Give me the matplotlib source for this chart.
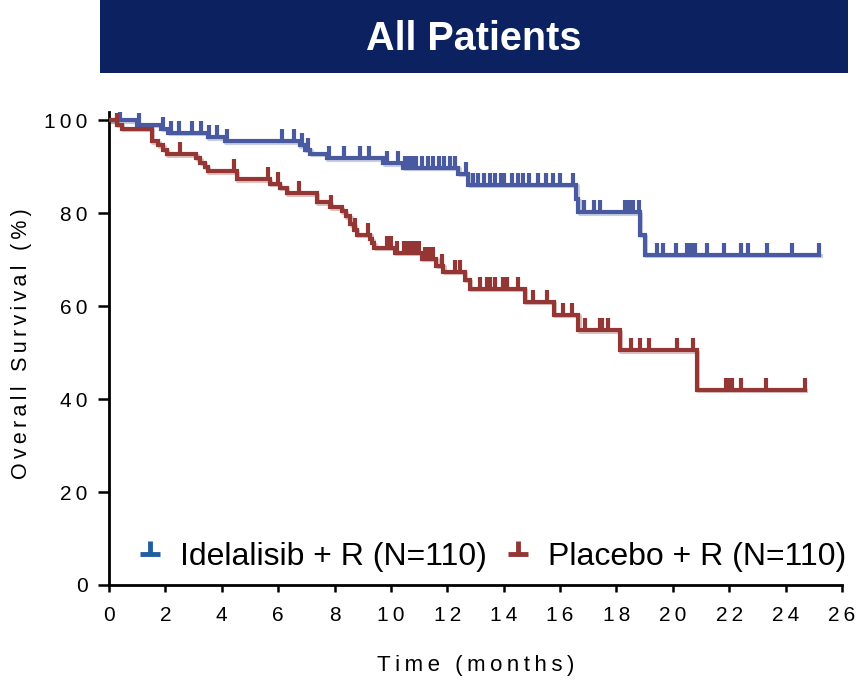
import numpy as np
import matplotlib
matplotlib.use("Agg")
import matplotlib.pyplot as plt
from matplotlib.path import Path
from matplotlib.lines import Line2D
from matplotlib.patches import Rectangle
from matplotlib.transforms import offset_copy

# ---- data ----
idela_times = [0, 1.0, 1.85, 2.1, 3.5, 4.1, 6.77, 6.95, 7.13, 7.72, 9.73, 10.44, 12.39, 12.74,
               16.58, 16.65, 18.83, 19.0, 25.2]
idela_surv = [100, 99.1, 98.2, 97.3, 96.4, 95.5, 94.6, 93.7, 92.8, 91.8, 90.8, 89.8, 88.5, 86.1,
              83.0, 80.2, 75.4, 71.1, 71.1]
idela_censor = [0.39, 1.06, 1.9, 2.19, 2.48, 2.95, 3.26, 3.55, 3.82, 4.17, 6.12, 6.56, 6.83, 7.06,
                7.79, 8.33, 8.92, 9.23, 9.85, 10.25, 10.5, 10.65, 10.8, 10.9, 11.1, 11.3, 11.5,
                11.7, 11.9, 12.1, 12.27, 12.68, 12.9, 13.1, 13.3, 13.5, 13.7, 13.9, 14.0, 14.3,
                14.5, 14.7, 14.9, 15.2, 15.5, 15.75, 16.0, 16.45, 16.84, 17.2, 17.4, 18.3, 18.45,
                18.6, 18.8, 19.45, 19.65, 20.1, 20.5, 20.65, 20.8, 21.2, 21.8, 22.4, 22.65, 23.35,
                24.24, 25.2]

plac_times = [0, 0.27, 0.45, 1.51, 1.75, 1.92, 2.04, 3.1, 3.23, 3.4, 3.5, 4.53, 5.71, 6.06, 6.3,
              7.37, 7.84, 8.25, 8.4, 8.55, 8.7, 8.78, 9.26, 9.33, 9.4, 10.14, 11.09, 11.6, 11.86,
              12.62, 12.8, 14.75, 15.78, 16.64, 18.12, 20.84, 24.68]
plac_surv = [100, 99.1, 98.2, 95.5, 94.6, 93.7, 92.7, 91.8, 90.9, 90.0, 89.1, 87.3, 86.4, 85.5,
             84.3, 82.4, 81.3, 80.4, 79.4, 77.6, 76.5, 75.4, 74.4, 73.6, 72.6, 71.5, 70.2, 68.7,
             67.4, 65.7, 63.8, 61.0, 58.2, 54.8, 50.5, 42.0, 42.0]
plac_censor = [0.29, 2.52, 4.45, 5.65, 6.0, 6.74, 7.87, 8.72, 9.2, 9.85, 10.0, 10.2, 10.45, 10.6,
               10.75, 10.9, 11.0, 11.2, 11.35, 11.5, 11.8, 12.27, 12.45, 13.16, 13.4, 13.5, 13.69,
               13.97, 14.1, 14.49, 15.05, 15.52, 16.1, 16.44, 16.88, 17.4, 17.5, 17.7, 18.5,
               18.83, 19.16, 20.15, 20.7, 21.9, 22.0, 22.1, 22.4, 23.3, 24.68]

labels = ["Idelalisib + R (N=110)", "Placebo + R (N=110)"]
x_ticks = list(range(0, 27, 2))
y_ticks = [0, 20, 40, 60, 80, 100]
x_label = "Time (months)"
y_label = "Overall Survival (%)"
title = "All Patients"

blue = "#4a5aa0"
red = "#943634"
blue_leg = "#1f5fa0"
navy = "#0b2160"

plt.rcParams['font.family'] = ['Liberation Sans', 'DejaVu Sans']

TS = "\u2009"  # thin space for letter spacing


def spaced(s):
    return TS.join(s)


fig = plt.figure(figsize=(8.59, 6.8), dpi=100)
ax = fig.add_axes([109/859, 1-585/680, (842-109)/859, (585-112)/680])


def level_at(times, surv, t):
    idx = np.searchsorted(np.asarray(times), t, side='right') - 1
    return np.asarray(surv)[idx]


shadow = offset_copy(ax.transData, fig=fig, x=1.5, y=-1.5, units='dots')
for times, surv, cens, col in [(idela_times, idela_surv, idela_censor, blue),
                               (plac_times, plac_surv, plac_censor, red)]:
    cy = [level_at(times, surv, c) for c in cens]
    ax.step(times, surv, where='post', color=col, lw=3.0, alpha=0.3, transform=shadow, zorder=2)
    ax.step(times, surv, where='post', color=col, lw=3.0, solid_joinstyle='miter', zorder=3)
    ax.plot(cens, cy, linestyle='none', marker=2, color=col, markersize=8.5,
            markeredgewidth=3.0, zorder=3)

ax.set_xlim(0, 26)
ax.set_ylim(0, 101.8)
ax.set_xticks(x_ticks)
ax.set_yticks(y_ticks)
ax.set_xticklabels([spaced(str(v)) for v in x_ticks], fontsize=15)
ax.set_yticklabels([spaced(str(v)) for v in y_ticks], fontsize=15)
ax.tick_params(axis='x', direction='out', length=5, width=1.8, pad=10)
ax.tick_params(axis='y', direction='out', length=8, width=1.8, pad=7.5)
for s in ['top', 'right']:
    ax.spines[s].set_visible(False)
for s in ['left', 'bottom']:
    ax.spines[s].set_linewidth(2.0)

fig.text(476/859, 1-665/680, spaced(x_label), ha='center', va='center', fontsize=16)
fig.text(22/859, 1-344/680, spaced(y_label), ha='center', va='center',
         rotation=90, fontsize=15.5)

# legend
tick_marker = Path([(-1, 0), (1, 0), (0, 0), (0, 1.3)],
                   [Path.MOVETO, Path.LINETO, Path.MOVETO, Path.LINETO])
handles = [Line2D([], [], linestyle='none', marker=tick_marker, markersize=19,
                  markeredgewidth=3.5, color=blue_leg),
           Line2D([], [], linestyle='none', marker=tick_marker, markersize=19,
                  markeredgewidth=3.5, color=red)]
ax.legend(handles, labels, loc='lower left', bbox_to_anchor=(0.006, -0.02), ncol=2, frameon=False,
          prop={'family': ['Liberation Sans Narrow', 'Liberation Sans', 'DejaVu Sans'], 'size': 23},
          handlelength=0.9, handletextpad=0.5, columnspacing=0.5, borderaxespad=0.3)

# title banner
fig.patches.append(Rectangle((100/859, 1-73/680), (848-100)/859, 73/680, transform=fig.transFigure,
                             facecolor=navy, edgecolor='none'))
fig.text(474/859, 1-39/680, title, ha='center', va='center', color='white',
         fontsize=28.5, fontweight='bold')

fig.savefig("out.png", dpi=100)
